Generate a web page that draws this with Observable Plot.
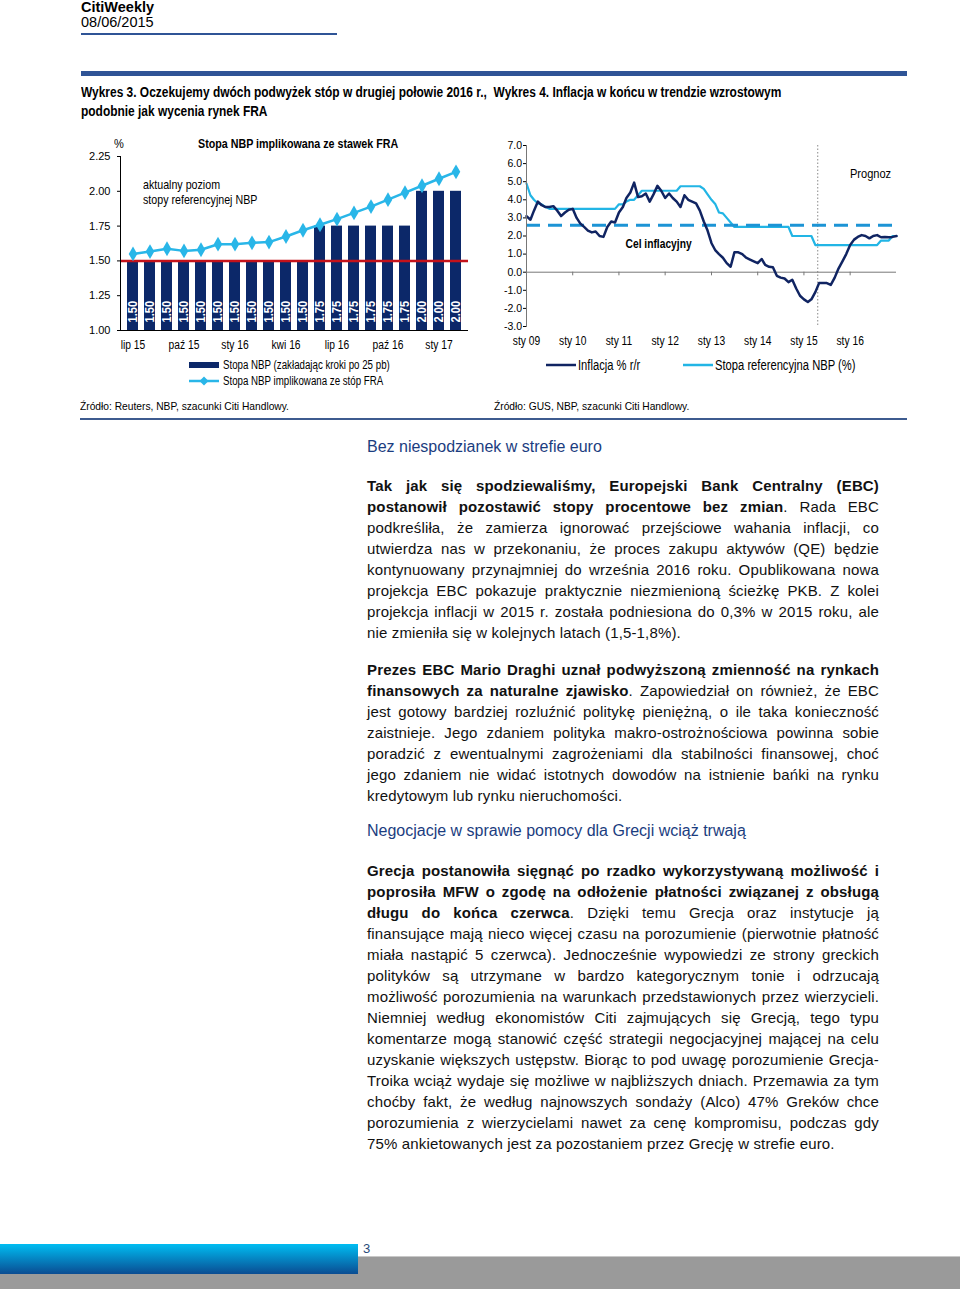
<!DOCTYPE html>
<html><head><meta charset="utf-8">
<script src="https://cdn.jsdelivr.net/npm/d3@7"></script>
<script src="https://cdn.jsdelivr.net/npm/@observablehq/plot@0.6"></script>
<style>
html,body{margin:0;padding:0;background:#fff;}
#page{position:relative;width:960px;height:1290px;overflow:hidden;font-family:'Liberation Sans',Arial,sans-serif;color:#000;}
.abs{position:absolute;white-space:nowrap;}
.cond{transform-origin:0 0;}
.body{position:absolute;left:367px;width:512px;font-size:15px;letter-spacing:0.15px;line-height:21px;color:#111;}
.body div{height:21px;text-align:justify;text-align-last:justify;white-space:normal;}
.body div.last{text-align-last:left;}
.h{position:absolute;left:367px;font-size:16px;color:#1b3d80;line-height:20px;white-space:nowrap;}
#left,#right{position:absolute;}
</style></head><body><div id="page">
<div class="abs" style="left:81px;top:0px;font-size:14.5px;font-weight:bold;line-height:14px;">CitiWeekly</div>
<div class="abs" style="left:81px;top:14px;font-size:14.5px;line-height:16px;">08/06/2015</div>
<div class="abs" style="left:81px;top:33px;width:256px;height:2px;background:#2f5496;"></div>
<div class="abs" style="left:81px;top:71px;width:826px;height:5px;background:#2f5496;"></div>
<div class="abs cond" style="left:81px;top:83px;font-size:14px;font-weight:bold;line-height:18px;transform:scaleX(0.853);">Wykres 3. Oczekujemy dwóch podwyżek stóp w drugiej połowie 2016 r.,&nbsp; Wykres 4. Inflacja w końcu w trendzie wzrostowym</div>
<div class="abs cond" style="left:81px;top:102px;font-size:14px;font-weight:bold;line-height:18px;transform:scaleX(0.853);">podobnie jak wycenia rynek FRA</div>

<div class="abs cond" style="left:114px;top:136px;font-size:13px;line-height:16px;transform:scaleX(0.85);">%</div>
<div class="abs cond" style="left:198px;top:136px;font-size:13px;font-weight:bold;line-height:16px;transform:scaleX(0.823);">Stopa NBP implikowana ze stawek FRA</div>

<div id="left" style="left:70px;top:130px;"></div>
<div id="right" style="left:490px;top:130px;"></div>

<svg class="abs" style="left:189px;top:358px;" width="32" height="30"><rect x="0" y="4" width="30" height="6" fill="#0c2869"/><line x1="0" x2="30" y1="23" y2="23" stroke="#29b6e8" stroke-width="2.5"/><path d="M15,18.5 L19.5,23 L15,27.5 L10.5,23 Z" fill="#29b6e8"/></svg>
<div class="abs cond" style="left:223px;top:357px;font-size:12px;line-height:16px;transform:scaleX(0.81);">Stopa NBP (zakładając kroki po 25 pb)</div>
<div class="abs cond" style="left:223px;top:373px;font-size:12px;line-height:16px;transform:scaleX(0.81);">Stopa NBP implikowana ze stóp FRA</div>

<svg class="abs" style="left:546px;top:360px;" width="32" height="10"><line x1="0" x2="30" y1="5" y2="5" stroke="#102462" stroke-width="2.5"/></svg>
<div class="abs cond" style="left:578px;top:357px;font-size:14px;line-height:16px;transform:scaleX(0.8);">Inflacja % r/r</div>
<svg class="abs" style="left:683px;top:360px;" width="32" height="10"><line x1="0" x2="30" y1="5" y2="5" stroke="#22b5e5" stroke-width="2.5"/></svg>
<div class="abs cond" style="left:715px;top:357px;font-size:14px;line-height:16px;transform:scaleX(0.8);">Stopa referencyjna NBP (%)</div>

<div class="abs cond" style="left:80px;top:399px;font-size:11.5px;line-height:14px;transform:scaleX(0.89);">Źródło: Reuters, NBP, szacunki Citi Handlowy.</div>
<div class="abs cond" style="left:494px;top:399px;font-size:11.5px;line-height:14px;transform:scaleX(0.89);">Źródło: GUS, NBP, szacunki Citi Handlowy.</div>
<div class="abs" style="left:80px;top:418px;width:827px;height:2px;background:#3d5b8f;"></div>

<div class="h" style="top:437px;">Bez niespodzianek w strefie euro</div>
<div class="body" style="top:474.5px;">
<div><b>Tak jak się spodziewaliśmy, Europejski Bank Centralny (EBC)</b></div>
<div><b>postanowił pozostawić stopy procentowe bez zmian</b>. Rada EBC</div>
<div>podkreśliła, że zamierza ignorować przejściowe wahania inflacji, co</div>
<div>utwierdza nas w przekonaniu, że proces zakupu aktywów (QE) będzie</div>
<div>kontynuowany przynajmniej do września 2016 roku. Opublikowana nowa</div>
<div>projekcja EBC pokazuje praktycznie niezmienioną ścieżkę PKB. Z kolei</div>
<div>projekcja inflacji w 2015 r. została podniesiona do 0,3% w 2015 roku, ale</div>
<div class="last">nie zmieniła się w kolejnych latach (1,5-1,8%).</div>
</div>
<div class="body" style="top:658.5px;">
<div><b>Prezes EBC Mario Draghi uznał podwyższoną zmienność na rynkach</b></div>
<div><b>finansowych za naturalne zjawisko</b>. Zapowiedział on również, że EBC</div>
<div>jest gotowy bardziej rozluźnić politykę pieniężną, o ile taka konieczność</div>
<div>zaistnieje. Jego zdaniem polityka makro-ostrożnościowa powinna sobie</div>
<div>poradzić z ewentualnymi zagrożeniami dla stabilności finansowej, choć</div>
<div>jego zdaniem nie widać istotnych dowodów na istnienie bańki na rynku</div>
<div class="last">kredytowym lub rynku nieruchomości.</div>
</div>
<div class="h" style="top:821px;">Negocjacje w sprawie pomocy dla Grecji wciąż trwają</div>
<div class="body" style="top:859.5px;">
<div><b>Grecja postanowiła sięgnąć po rzadko wykorzystywaną możliwość i</b></div>
<div><b>poprosiła MFW o zgodę na odłożenie płatności związanej z obsługą</b></div>
<div><b>długu do końca czerwca</b>. Dzięki temu Grecja oraz instytucje ją</div>
<div>finansujące mają nieco więcej czasu na porozumienie (pierwotnie płatność</div>
<div>miała nastąpić 5 czerwca). Jednocześnie wypowiedzi ze strony greckich</div>
<div>polityków są utrzymane w bardzo kategorycznym tonie i odrzucają</div>
<div>możliwość porozumienia na warunkach przedstawionych przez wierzycieli.</div>
<div>Niemniej według ekonomistów Citi zajmujących się Grecją, tego typu</div>
<div>komentarze mogą stanowić część strategii negocjacyjnej mającej na celu</div>
<div>uzyskanie większych ustępstw. Biorąc to pod uwagę porozumienie Grecja-</div>
<div>Troika wciąż wydaje się możliwe w najbliższych dniach. Przemawia za tym</div>
<div>choćby fakt, że według najnowszych sondaży (Alco) 47% Greków chce</div>
<div>porozumienia z wierzycielami nawet za cenę kompromisu, podczas gdy</div>
<div class="last">75% ankietowanych jest za pozostaniem przez Grecję w strefie euro.</div>
</div>

<div class="abs" style="left:0;top:1257px;width:960px;height:32px;background:#9a9a9a;"></div>
<div class="abs" style="left:358px;top:1256px;width:602px;height:1px;background:#c8c8c8;"></div>
<div class="abs" style="left:0;top:1244px;width:358px;height:30px;background:linear-gradient(#00bdf2,#0a4c92);"></div>
<div class="abs" style="left:363px;top:1241px;font-size:13px;line-height:16px;color:#2a4a7a;">3</div>
</div>
<script>
const FONT = "'Liberation Sans',Arial,sans-serif";

// ---- Wykres 3 data ----
const fraMonths = ["lip 15","sie 15","wrz 15","paź 15","lis 15","gru 15","sty 16","lut 16","mar 16","kwi 16","maj 16","cze 16","lip 16","sie 16","wrz 16","paź 16","lis 16","gru 16","sty 17","lut 17"];
const nbpStepRate = [1.50,1.50,1.50,1.50,1.50,1.50,1.50,1.50,1.50,1.50,1.50,1.75,1.75,1.75,1.75,1.75,1.75,2.00,2.00,2.00];
const fraImpliedRate = [1.55,1.567,1.587,1.572,1.58,1.62,1.62,1.63,1.635,1.675,1.72,1.76,1.80,1.845,1.89,1.94,1.99,2.04,2.09,2.14];
const currentNbpRate = 1.50;
const leftYTicks = [1.00,1.25,1.50,1.75,2.00,2.25];
const leftXTicks = ["lip 15","paź 15","sty 16","kwi 16","lip 16","paź 16","sty 17"];
const leftNoteText = ["aktualny poziom\nstopy referencyjnej NBP"];
const leftNoteMonth = ["sie 15"];
const leftNoteValue = [2.0];

// ---- Wykres 4 data ----
const years = [2009,2010,2011,2012,2013,2014,2015,2016];
const cpi2009 = [3.1,2.9,3.4,3.9,3.7,3.6,3.6,3.65,3.4,3.1,3.3,3.45];
const cpi2010 = [3.5,3.0,2.7,2.5,2.3,2.2,2.25,2.0,1.95,2.5,2.8,2.75];
const cpi2011 = [3.3,3.6,4.1,4.4,4.95,4.15,4.2,4.35,3.9,4.3,4.77,4.5];
const cpi2012 = [4.1,4.35,4.1,3.9,3.6,4.25,4.0,3.9,3.8,3.4,2.8,2.3];
const cpi2013 = [1.6,1.2,1.0,0.8,0.5,0.3,1.1,1.1,1.0,0.8,0.7,0.6];
const cpi2014 = [0.5,0.73,0.4,0.3,0.27,-0.2,-0.3,-0.35,-0.55,-0.42,-0.9,-1.3];
const cpi2015 = [-1.5,-1.65,-1.5,-1.1,-0.6,-0.6,-0.6,-0.7,-0.3,0.2,0.6,1.0];
const cpi2016 = [1.5,1.8,1.95,2.05,2.0,1.87,2.0,2.05,1.93,1.95,1.93,1.95];
const cpiJan2017 = 2.0;
const ref2009 = [4.9,4.25,4.0,3.8,3.75,3.6,3.5,3.5,3.5,3.5,3.5,3.5];
const ref2010 = [3.5,3.5,3.5,3.5,3.5,3.5,3.5,3.5,3.5,3.5,3.5,3.5];
const ref2011 = [3.75,3.75,3.9,4.0,4.0,4.25,4.5,4.5,4.5,4.5,4.5,4.5];
const ref2012 = [4.5,4.5,4.5,4.5,4.75,4.75,4.75,4.75,4.75,4.75,4.6,4.3];
const ref2013 = [4.0,3.75,3.3,3.25,3.0,2.75,2.5,2.5,2.5,2.5,2.5,2.5];
const ref2014 = [2.5,2.5,2.5,2.5,2.5,2.5,2.5,2.5,2.5,2.0,2.0,2.0];
const ref2015 = [2.0,2.0,2.0,1.5,1.5,1.5,1.5,1.5,1.5,1.5,1.5,1.5];
const ref2016 = [1.5,1.5,1.5,1.5,1.5,1.5,1.5,1.5,1.75,1.75,1.75,2.0];
const refJan2017 = 2.0;
const inflationTarget = 2.6;
const rightYTicks = [-3,-2,-1,0,1,2,3,4,5,6,7];
const yearLabels = ["sty 09","sty 10","sty 11","sty 12","sty 13","sty 14","sty 15","sty 16"];
const forecastStart = new Date(Date.UTC(2015,3,20));
const noteTexts = ["Cel inflacyjny","Prognoz"];
const noteDates = [new Date(Date.UTC(2011,10,10)), new Date(Date.UTC(2016,5,10))];
const noteValues = [1.54, 5.45];
const noteWeights = ["bold","normal"];

// squeeze SVG text horizontally (the reference uses a narrow typeface)
function condense(svg, f) {
  svg.querySelectorAll("text").forEach(el => {
    const g = el.parentNode;
    if (g && g.getAttribute && g.getAttribute("aria-label") === "y-axis tick label") return;
    const ts = el.querySelectorAll("tspan");
    const targets = ts.length ? Array.from(ts) : [el];
    targets.forEach(t => {
      const L = t.getComputedTextLength();
      if (L > 0) { t.setAttribute("textLength", (L * f).toFixed(2)); t.setAttribute("lengthAdjust", "spacingAndGlyphs"); }
    });
  });
}

// ---- Left chart ----
const leftData = fraMonths.map((m,i)=>({month:m, step:nbpStepRate[i], fra:fraImpliedRate[i]}));
const left = Plot.plot({
  width: 410, height: 225, marginLeft: 50, marginRight: 12, marginTop: 26, marginBottom: 25,
  style: {fontFamily: FONT, fontSize: "12px", color: "#000", background: "transparent", overflow: "visible"},
  x: {type: "band", domain: fraMonths, paddingInner: 0.33, paddingOuter: 0.165, label: null},
  y: {domain: [1.0, 2.25], label: null},
  marks: [
    Plot.barY(leftData, {x: "month", y1: 1.0, y2: "step", fill: "#0c2869"}),
    Plot.text(leftData, {x: "month", y: 1.0, text: d => d.step.toFixed(2), rotate: -90, textAnchor: "start", dy: -8, fill: "white", fontWeight: "bold", fontSize: 13.5}),
    Plot.ruleY([currentNbpRate], {stroke: "#c4121a", strokeWidth: 2.5}),
    Plot.line(leftData, {x: "month", y: "fra", stroke: "#29b6e8", strokeWidth: 2.5}),
    Plot.dot(leftData, {x: "month", y: "fra", symbol: "diamond", fill: "#29b6e8", r: 4.5}),
    Plot.text(leftNoteText, {x: leftNoteMonth, y: leftNoteValue, text: d => d, textAnchor: "start", dx: -7, fontSize: 13, lineHeight: 1.15, fill: "#000"}),
    Plot.ruleY([1.0], {stroke: "#000", strokeWidth: 1}),
    Plot.frame({anchor: "left", stroke: "#000"}),
    Plot.axisY({ticks: leftYTicks, tickFormat: d => d.toFixed(2), tickSize: 3, tickPadding: 7, fontSize: 11, label: null}),
    Plot.axisX({ticks: leftXTicks, tickSize: 0, tickPadding: 10, fontSize: 12.5, label: null})
  ]
});
document.getElementById("left").appendChild(left);
condense(left, 0.82);

// ---- Right chart ----
const cpiByYear = [cpi2009,cpi2010,cpi2011,cpi2012,cpi2013,cpi2014,cpi2015,cpi2016];
const refByYear = [ref2009,ref2010,ref2011,ref2012,ref2013,ref2014,ref2015,ref2016];
const cpiData = [], refData = [];
years.forEach((y, yi) => {
  cpiByYear[yi].forEach((v, m) => cpiData.push({date: new Date(Date.UTC(y, m, 1)), value: v}));
  refByYear[yi].forEach((v, m) => refData.push({date: new Date(Date.UTC(y, m, 1)), value: v}));
});
cpiData.push({date: new Date(Date.UTC(2017,0,1)), value: cpiJan2017});
refData.push({date: new Date(Date.UTC(2017,0,1)), value: refJan2017});
const yearDates = years.map(y => new Date(Date.UTC(y,0,1)));
const notes = noteTexts.map((t,i)=>({text:t, date:noteDates[i], value:noteValues[i], w:noteWeights[i]}));

const right = Plot.plot({
  width: 420, height: 225, marginLeft: 36, marginRight: 14, marginTop: 15, marginBottom: 29,
  style: {fontFamily: FONT, fontSize: "12px", color: "#000", background: "transparent", overflow: "visible"},
  x: {type: "utc", domain: [new Date(Date.UTC(2009,0,1)), new Date(Date.UTC(2017,0,1))], label: null},
  y: {domain: [-3, 7], label: null},
  marks: [
    Plot.ruleX([forecastStart], {stroke: "#8a8a8a", strokeWidth: 1, strokeDasharray: "1.5,2"}),
    Plot.ruleY([0], {stroke: "#777", strokeWidth: 1}),
    Plot.ruleX(yearDates, {y1: 0, y2: -0.2, stroke: "#777"}),
    Plot.line(refData, {x: "date", y: "value", stroke: "#22b5e5", strokeWidth: 2.2}),
    Plot.ruleY([inflationTarget], {stroke: "#1c94d5", strokeWidth: 3, strokeDasharray: "14,8"}),
    Plot.line(cpiData, {x: "date", y: "value", stroke: "#102462", strokeWidth: 2.5}),
    Plot.text(notes.filter(d => d.w === "bold"), {x: "date", y: "value", text: "text", fontWeight: "bold", fontSize: 12.5, fill: "#000"}),
    Plot.text(notes.filter(d => d.w !== "bold"), {x: "date", y: "value", text: "text", fontSize: 13.5, fill: "#000"}),
    Plot.frame({anchor: "left", stroke: "#777"}),
    Plot.axisY({ticks: rightYTicks, tickFormat: d => d.toFixed(1), tickSize: 3, tickPadding: 1.5, fontSize: 10.5, label: null}),
    Plot.axisX({ticks: yearDates, tickFormat: d => yearLabels[years.indexOf(d.getUTCFullYear())], tickSize: 0, tickPadding: 10, fontSize: 12.5, label: null})
  ]
});
document.getElementById("right").appendChild(right);
condense(right, 0.82);
</script>
</body></html>
